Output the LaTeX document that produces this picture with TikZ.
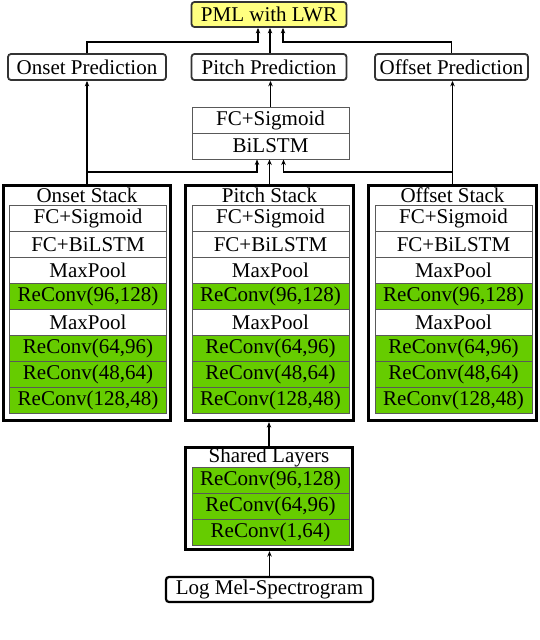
\documentclass[tikz,border=0pt]{standalone}
\usepackage{fontspec}
\setmainfont{Liberation Serif}
\usetikzlibrary{arrows.meta}
\definecolor{convgreen}{RGB}{102,204,0}
\definecolor{pmlyellow}{RGB}{255,255,128}
\begin{document}
\begin{tikzpicture}[x=1pt,y=-1pt,
  every node/.style={font=\fontsize{21}{24}\selectfont, inner sep=0pt},
  layer/.style={draw=black!65, line width=1pt, minimum width=157pt, minimum height=26pt, fill=white},
  conv/.style={layer, fill=convgreen},
  stackbox/.style={draw=black, line width=2.8pt, minimum width=167.5pt, minimum height=235.5pt},
  predbox/.style={draw=black!80, line width=1.8pt, rounded corners=3pt, minimum height=26pt, fill=white},
  arr/.style={-{Stealth[length=5.5pt,width=4.5pt]}, line width=1.2pt}]
\useasboundingbox (0,0) rectangle (540,640);

% top outputs
\node[predbox, fill=pmlyellow, minimum width=155pt, minimum height=25pt] (pml) at (269,14.5) {PML with LWR};
\node[predbox, minimum width=158pt] (onsetpred) at (87,67) {Onset Prediction};
\node[predbox, minimum width=155pt] (pitchpred) at (269,67) {Pitch Prediction};
\node[predbox, minimum width=153pt] (offsetpred) at (451.5,67) {Offset Prediction};

% pitch head
\node[layer] (fcsig) at (270.5,120) {FC+Sigmoid};
\node[layer] (bilstm) at (270.5,146) {BiLSTM};

% stacks
\foreach \nm/\cx/\lx/\ttl in {onset/87/88/Onset Stack, pitch/269.5/270.5/Pitch Stack, offset/452.5/453.5/Offset Stack}{
  \node[stackbox] (\nm stack) at (\cx,303) {};
  \node (\nm title) at (\cx,195.5) {\ttl};
  \node[layer] (\nm l1) at (\lx,218.05) {FC+Sigmoid};
  \node[layer] (\nm l2) at (\lx,244.15) {FC+BiLSTM};
  \node[layer] (\nm l3) at (\lx,270.25) {MaxPool};
  \node[conv]  (\nm l4) at (\lx,296.35) {ReConv(96,128)};
  \node[layer] (\nm l5) at (\lx,322.45) {MaxPool};
  \node[conv]  (\nm l6) at (\lx,348.55) {ReConv(64,96)};
  \node[conv]  (\nm l7) at (\lx,374.65) {ReConv(48,64)};
  \node[conv]  (\nm l8) at (\lx,400.75) {ReConv(128,48)};
}

% shared layers
\node[stackbox, minimum height=102.5pt] (shared) at (269,498.5) {};
\node (sharedtitle) at (269,457) {Shared Layers};
\node[conv] (s1) at (270.5,480) {ReConv(96,128)};
\node[conv] (s2) at (270.5,506) {ReConv(64,96)};
\node[conv] (s3) at (270.5,532) {ReConv(1,64)};

% input
\node[predbox, draw=black, line width=2.2pt, minimum width=207pt, minimum height=25pt] (logmel) at (269.5,589.5) {Log Mel-Spectrogram};

% connectors
\coordinate (jl) at (258,42);
\coordinate (jr) at (283,42);
\draw[arr] (onsetpred.north) |- (jl) -- (jl |- pml.south);
\draw[arr] (offsetpred.north) |- (jr) -- (jr |- pml.south);
\draw[arr] ([xshift=1pt]pitchpred.north) -- ([xshift=1pt]pml.south);
\draw[arr] (fcsig.north) -- (fcsig.north |- pitchpred.south);

\coordinate (bl) at (257,172);
\coordinate (br) at (283.5,172);
\draw[arr] (onsetstack.north) -- (onsetpred.south);
\draw[arr] (offsetstack.north) -- (offsetstack.north |- offsetpred.south);
\draw[arr] (onsetstack.north |- bl) -- (bl) -- (bl |- bilstm.south);
\draw[arr] (offsetstack.north |- br) -- (br) -- (br |- bilstm.south);
\draw[arr] (pitchstack.north) -- (pitchstack.north |- bilstm.south);

\draw[arr] (shared.north) -- (shared.north |- pitchstack.south);
\draw[arr] (logmel.north) -- (logmel.north |- shared.south);
\end{tikzpicture}
\end{document}
